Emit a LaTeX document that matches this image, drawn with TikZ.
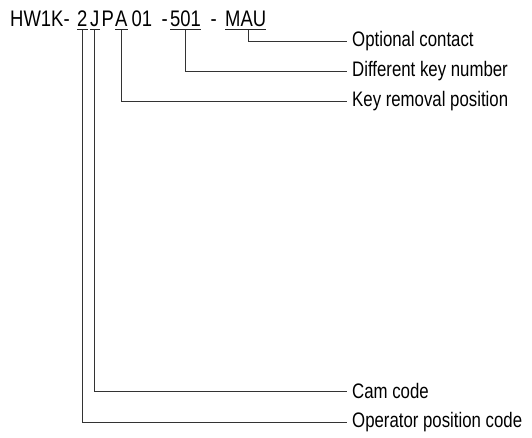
\documentclass[tikz,border=0pt]{standalone}
\usepackage{fontspec}
\setmainfont[FakeStretch=0.8]{Liberation Sans}
\newfontfamily\ttlfont[FakeStretch=0.82]{Liberation Sans}
\begin{document}
\begin{tikzpicture}[x=1pt,y=-1pt,
  ttl/.style={font=\ttlfont\fontsize{22.5}{25}\selectfont,inner sep=0pt,anchor=base west},
  lbl/.style={font=\fontsize{21}{24}\selectfont,inner xsep=5pt,inner ysep=0pt,anchor=west},
  lead/.style={line width=0.9pt,draw=black!80},
  uline/.style={line width=0.9pt,draw=black!85}]
\useasboundingbox (0,0) rectangle (532,437);
% title pieces
\node[ttl] (pre) at (10,26) {HW1K-};
\node[ttl] (c2) at (77,26) {2};
\node[ttl] (cJ) at (90,26) {J};
\node[ttl] (cP) at (101.5,26) {P};
\node[ttl] (cA) at (115,26) {A};
\node[ttl] (c01) at (131.5,26) {01};
\node[ttl] (d1) at (161.5,26) {-};
\node[ttl] (k501) at (170,26) {501};
\node[ttl] (d2) at (210.5,26) {-};
\node[ttl] (mau) at (225,26) {MAU};
% underlines
\foreach \n in {c2,cJ,cA,k501,mau}{
  \draw[uline] ([yshift=-3.5pt]\n.base west) -- ([yshift=-3.5pt]\n.base east);
}
\coordinate (u2) at ([yshift=-3.5pt]c2.base);
\coordinate (uJ) at ([yshift=-3.5pt]cJ.base);
\coordinate (uA) at ([yshift=-3.5pt]cA.base);
\coordinate (u501) at ([yshift=-3.5pt]k501.base);
\coordinate (umau) at ([xshift=3pt,yshift=-3.5pt]mau.base);
% labels
\node[lbl] (opt) at (347,41) {Optional contact};
\node[lbl] (dkn) at (347,71) {Different key number};
\node[lbl] (krp) at (347,101.5) {Key removal position};
\node[lbl] (cam) at (347,391) {Cam code};
\node[lbl] (opc) at (347,422) {Operator position code};
% leaders
\draw[lead] (umau) |- (opt.west);
\draw[lead] (u501) |- (dkn.west);
\draw[lead] (uA) |- (krp.west);
\draw[lead] (uJ) |- (cam.west);
\draw[lead] (u2) |- (opc.west);
\end{tikzpicture}
\end{document}
